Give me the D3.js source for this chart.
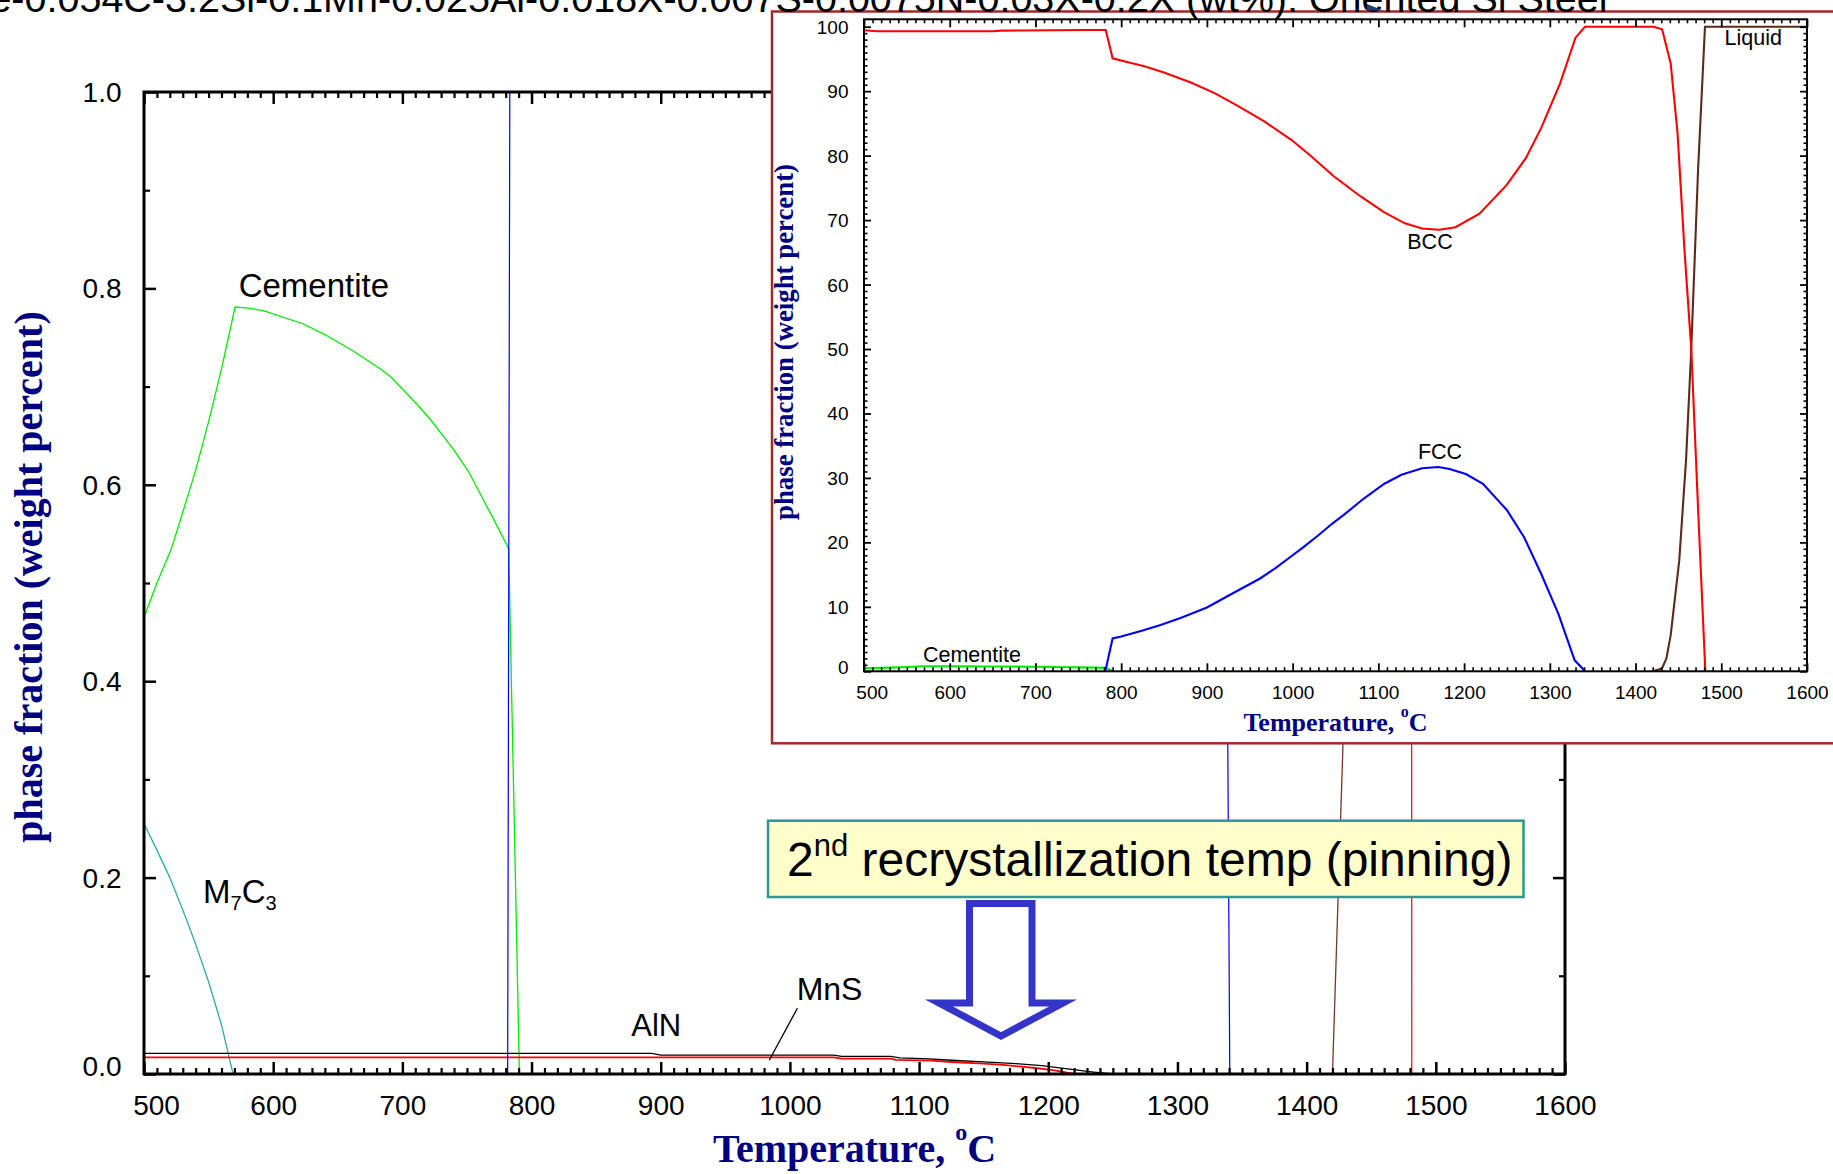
<!DOCTYPE html>
<html>
<head>
<meta charset="utf-8">
<script src="https://cdn.jsdelivr.net/npm/d3@7"></script>
<style>
  html, body { margin: 0; padding: 0; background: #fff; overflow: hidden; }
  svg { display: block; }
</style>
</head>
<body>
<svg id="chart" width="1833" height="1174"></svg>
<script>
// ---------------------------------------------------------------
// Equilibrium phase fractions (weight percent) vs temperature (°C)
// ---------------------------------------------------------------
const cementite = [[500,0.465],[510,0.50],[521,0.534],[530,0.572],[540,0.615],[550,0.664],[560,0.718],[570.5,0.781],
  [581,0.780],[593,0.777],[623,0.764],[640,0.753],[661,0.737],[682,0.719],[691,0.710],[712,0.681],[722,0.666],
  [739,0.637],[751,0.614],[771,0.564],[782.3,0.535],[790.6,0]];
const m7c3 = [[500,0.255],[510,0.228],[520,0.200],[533,0.157],[540,0.132],[550,0.094],[560,0.050],[567.5,0.008],[569,0]];
const aln = [[500,0.021],[893,0.021],[900,0.0192],[1034,0.0192],[1040,0.0180],[1078,0.0180],[1085,0.0165],[1108,0.0155],
  [1125,0.0140],[1150,0.0123],[1175,0.0106],[1195,0.0086],[1215,0.0052],[1235,0.0020],[1250,0]];
const mns = [[500,0.017],[1034,0.017],[1040,0.0156],[1078,0.0156],[1082,0.0143],[1110,0.0136],[1125,0.0122],
  [1150,0.0105],[1165,0.0092],[1190,0.0061],[1205,0.0037],[1220,0]];
const fcc = [[781.5,0],[790,5.1],[800,5.4],[824,6.3],[846,7.2],[870,8.3],[900,9.9],[926,11.8],[962,14.4],[980,16.0],
  [1000,18.0],[1013,19.3],[1030,21.1],[1047,23.0],[1060,24.3],[1083,26.8],[1107,29.1],[1127,30.5],[1151,31.5],
  [1170,31.7],[1183,31.4],[1202,30.6],[1222,29.1],[1250,25.0],[1270,20.8],[1290,15.1],[1310,8.9],[1329,1.7],
  [1339,0.33],[1340.5,0]];
const bcc = [[500,99.45],[515,99.3],[650,99.3],[660,99.4],[760,99.5],[782,99.5],[790,95.1],[808,94.5],[826,93.9],
  [850,92.9],[882,91.3],[909,89.7],[935,87.8],[967,85.3],[998,82.5],[1020,80.1],[1048,76.8],[1079,73.7],[1107,71.2],
  [1131,69.5],[1151,68.7],[1171,68.5],[1190,68.9],[1218,71.0],[1250,75.5],[1272,79.6],[1290,84.3],[1312,91.2],
  [1330,98.3],[1341,100],[1421,100],[1431,99.6],[1441,94.3],[1449,83.5],[1457,65.5],[1465,50],[1474,22],[1481.4,0]];
const liquid = [[1420,0],[1428,0.33],[1431,0.5],[1436,2.0],[1441,5.6],[1451,17.2],[1459,33],[1465,50],[1473,78],
  [1481,100],[1600,100]];

// axis ticks and labels
const tempTicks = [500,600,700,800,900,1000,1100,1200,1300,1400,1500,1600];
const tempMinor = d3.range(500, 1601, 10).filter(t => t % 100 !== 0);
const fracTicks = [0, 0.2, 0.4, 0.6, 0.8, 1.0];
const fracLabels = ["0.0", "0.2", "0.4", "0.6", "0.8", "1.0"];
const fracMinor = [0.1, 0.3, 0.5, 0.7, 0.9];
const pctTicks = [0,10,20,30,40,50,60,70,80,90,100];
const pctMinor = d3.range(0, 101, 1).filter(v => v % 10 !== 0);

const titleText = "Fe-0.054C-3.2Si-0.1Mn-0.025Al-0.018X-0.007S-0.0075N-0.03X-0.2X (wt%): Oriented Si Steel";
const axisTitleY = "phase fraction (weight percent)";

const SANS = "'Liberation Sans', Arial, Helvetica, sans-serif";
const SERIF = "'Liberation Serif', 'Times New Roman', serif";
const NAVY = "#000080";

const svg = d3.select("#chart");
const defs = svg.append("defs");

// ---------------- main plot ----------------
const xM = d3.scaleLinear().domain([500, 1600]).range([144, 1565]);
const yM = d3.scaleLinear().domain([0, 1]).range([1074, 92]);

defs.append("clipPath").attr("id", "clipMain").append("rect")
  .attr("x", xM(500)).attr("y", yM(1)).attr("width", xM(1600) - xM(500)).attr("height", yM(0) - yM(1));

const main = svg.append("g");

const lineM = d3.line().x(d => xM(d[0])).y(d => yM(d[1]));
const mainSeries = [
  { data: m7c3, color: "#2eaaa2", w: 1.3 },
  { data: cementite, color: "#00ee00", w: 1.3 },
  { data: mns, color: "#ff0000", w: 1.8 },
  { data: aln, color: "#000000", w: 1.3 },
  { data: fcc, color: "#0000ff", w: 1.2 },
  { data: bcc, color: "#ff0000", w: 1.2 },
  { data: liquid, color: "#7a3524", w: 1.3 }
];
const mainLines = main.append("g").attr("clip-path", "url(#clipMain)");
mainLines.selectAll("path").data(mainSeries).join("path")
  .attr("d", s => lineM(s.data)).attr("fill", "none")
  .attr("stroke", s => s.color).attr("stroke-width", s => s.w);

function styleAxis(g, sw) {
  g.select(".domain").remove();
  g.selectAll(".tick line").attr("stroke", "#000").attr("stroke-width", sw);
}

// bottom axis (labels) + top axis, ticks pointing inward
main.append("g").attr("transform", `translate(0,${yM(0)})`)
  .call(d3.axisBottom(xM).tickValues(tempMinor).tickSize(-6).tickFormat(""))
  .call(g => styleAxis(g, 2.2));
const bx = main.append("g").attr("transform", `translate(0,${yM(0)})`)
  .call(d3.axisBottom(xM).tickValues(tempTicks).tickSize(-12).tickPadding(21).tickFormat(d3.format("d")))
  .call(g => styleAxis(g, 2.5));
bx.selectAll(".tick text").attr("font-family", SANS).attr("font-size", 28).attr("fill", "#000")
  .attr("dx", d => d === 500 ? 12 : 0);

main.append("g").attr("transform", `translate(0,${yM(1)})`)
  .call(d3.axisTop(xM).tickValues(tempMinor).tickSize(-6).tickFormat(""))
  .call(g => styleAxis(g, 2.2));
main.append("g").attr("transform", `translate(0,${yM(1)})`)
  .call(d3.axisTop(xM).tickValues(tempTicks).tickSize(-12).tickFormat(""))
  .call(g => styleAxis(g, 2.5));

// left axis (labels) + right axis
main.append("g").attr("transform", `translate(${xM(500)},0)`)
  .call(d3.axisLeft(yM).tickValues(fracMinor).tickSize(-6).tickFormat(""))
  .call(g => styleAxis(g, 2.2));
const ly = main.append("g").attr("transform", `translate(${xM(500)},0)`)
  .call(d3.axisLeft(yM).tickValues(fracTicks).tickSize(-12).tickPadding(22.5)
    .tickFormat((d, i) => fracLabels[i]))
  .call(g => styleAxis(g, 2.5));
ly.selectAll(".tick text").attr("font-family", SANS).attr("font-size", 28).attr("fill", "#000")
  .attr("dy", d => d === 0 ? "0.05em" : "0.34em");

main.append("g").attr("transform", `translate(${xM(1600)},0)`)
  .call(d3.axisRight(yM).tickValues(fracMinor).tickSize(-6).tickFormat(""))
  .call(g => styleAxis(g, 2.2));
main.append("g").attr("transform", `translate(${xM(1600)},0)`)
  .call(d3.axisRight(yM).tickValues(fracTicks).tickSize(-12).tickFormat(""))
  .call(g => styleAxis(g, 2.5));

main.append("rect")
  .attr("x", xM(500)).attr("y", yM(1)).attr("width", xM(1600) - xM(500)).attr("height", yM(0) - yM(1))
  .attr("fill", "none").attr("stroke", "#000").attr("stroke-width", 3);

// phase labels
const lab = main.append("g").attr("font-family", SANS).attr("fill", "#000");
lab.append("text").attr("x", xM(573.3)).attr("y", yM(0.791)).attr("font-size", 33).text("Cementite");
const m7 = lab.append("text").attr("x", xM(545.7)).attr("y", yM(0.1737)).attr("font-size", 33);
m7.append("tspan").text("M");
m7.append("tspan").attr("font-size", 20).attr("dy", 7).text("7");
m7.append("tspan").attr("dy", -7).text("C");
m7.append("tspan").attr("font-size", 20).attr("dy", 7).text("3");
lab.append("text").attr("x", xM(877.2)).attr("y", yM(0.0387)).attr("font-size", 31).text("AlN");
lab.append("text").attr("x", xM(1005.2)).attr("y", yM(0.0754)).attr("font-size", 32).text("MnS");
lab.append("line")
  .attr("x1", xM(1005.8)).attr("y1", yM(0.067)).attr("x2", xM(984)).attr("y2", yM(0.014))
  .attr("stroke", "#000").attr("stroke-width", 1.3);

// axis titles
main.append("text").attr("x", (xM(500) + xM(1600)) / 2).attr("y", 1162)
  .attr("text-anchor", "middle").attr("font-family", SERIF).attr("font-weight", "bold")
  .attr("font-size", 40).attr("fill", NAVY)
  .call(t => {
    t.append("tspan").text("Temperature, ");
    t.append("tspan").attr("font-size", 24).attr("dy", -22).text("o");
    t.append("tspan").attr("dy", 22).text("C");
  });
main.append("text").attr("transform", "translate(42,577) rotate(-90)")
  .attr("text-anchor", "middle").attr("font-family", SERIF).attr("font-weight", "bold")
  .attr("font-size", 40).attr("fill", NAVY).text(axisTitleY);

// ---------------- annotation: pinning temperature ----------------
const ann = svg.append("g");
ann.append("rect").attr("x", 768).attr("y", 820.7).attr("width", 755.5).attr("height", 76.3)
  .attr("fill", "#ffffcc").attr("stroke", "#2f9690").attr("stroke-width", 2.5);
ann.append("text").attr("x", 787).attr("y", 876).attr("font-family", SANS).attr("font-size", 48).attr("fill", "#000")
  .call(t => {
    t.append("tspan").text("2");
    t.append("tspan").attr("font-size", 31).attr("dy", -20).text("nd");
    t.append("tspan").attr("dy", 20).text(" recrystallization temp (pinning)");
  });
ann.append("path")
  .attr("d", "M969.5,903.5 L1032,903.5 L1032,1003 L1063,1003 L1001,1036 L939,1003 L969.5,1003 Z")
  .attr("fill", "none").attr("stroke", "#3434c8").attr("stroke-width", 7)
  .attr("stroke-linejoin", "miter").attr("stroke-miterlimit", 10);

// ---------------- inset plot (0-100 %) ----------------
const xI = d3.scaleLinear().domain([500, 1600]).range([864, 1807]);
const yI = d3.scaleLinear().domain([0, 101.15]).range([671.3, 19.3]);

const inset = svg.append("g");
inset.append("rect").attr("x", 772).attr("y", 11.5).attr("width", 1100).attr("height", 743.3 - 11.5)
  .attr("fill", "#fff").attr("stroke", "#9e2a2a").attr("stroke-width", 2.5);

defs.append("clipPath").attr("id", "clipInset").append("rect")
  .attr("x", xI(500)).attr("y", yI(101.15)).attr("width", xI(1600) - xI(500)).attr("height", yI(0) - yI(101.15));

const lineI = d3.line().x(d => xI(d[0])).y(d => yI(d[1]));
const insetSeries = [
  { data: cementite, color: "#00ee00" },
  { data: fcc, color: "#0000ff" },
  { data: liquid, color: "#5e2a18" },
  { data: bcc, color: "#ff0000" }
];
inset.append("g").attr("clip-path", "url(#clipInset)")
  .selectAll("path").data(insetSeries).join("path")
  .attr("d", s => lineI(s.data)).attr("fill", "none")
  .attr("stroke", s => s.color).attr("stroke-width", 2.1);

inset.append("g").attr("transform", `translate(0,${yI(0)})`)
  .call(d3.axisBottom(xI).tickValues(tempMinor).tickSize(-4).tickFormat(""))
  .call(g => styleAxis(g, 1.6));
const ibx = inset.append("g").attr("transform", `translate(0,${yI(0)})`)
  .call(d3.axisBottom(xI).tickValues(tempTicks).tickSize(-8).tickPadding(14.2).tickFormat(d3.format("d")))
  .call(g => styleAxis(g, 1.8));
ibx.selectAll(".tick text").attr("font-family", SANS).attr("font-size", 19).attr("fill", "#000")
  .attr("dx", d => d === 500 ? 7.7 : 0);
inset.append("g").attr("transform", `translate(0,${yI(101.15)})`)
  .call(d3.axisTop(xI).tickValues(tempMinor).tickSize(-4).tickFormat(""))
  .call(g => styleAxis(g, 1.6));
inset.append("g").attr("transform", `translate(0,${yI(101.15)})`)
  .call(d3.axisTop(xI).tickValues(tempTicks).tickSize(-8).tickFormat(""))
  .call(g => styleAxis(g, 1.8));

inset.append("g").attr("transform", `translate(${xI(500)},0)`)
  .call(d3.axisLeft(yI).tickValues(pctMinor).tickSize(-3.5).tickFormat(""))
  .call(g => styleAxis(g, 1.6));
const ily = inset.append("g").attr("transform", `translate(${xI(500)},0)`)
  .call(d3.axisLeft(yI).tickValues(pctTicks).tickSize(-7).tickPadding(15.5).tickFormat(d3.format("d")))
  .call(g => styleAxis(g, 1.8));
ily.selectAll(".tick text").attr("font-family", SANS).attr("font-size", 19).attr("fill", "#000")
  .attr("dy", d => d === 0 ? "0.12em" : "0.34em");
inset.append("g").attr("transform", `translate(${xI(1600)},0)`)
  .call(d3.axisRight(yI).tickValues(pctMinor).tickSize(-3.5).tickFormat(""))
  .call(g => styleAxis(g, 1.6));
inset.append("g").attr("transform", `translate(${xI(1600)},0)`)
  .call(d3.axisRight(yI).tickValues(pctTicks).tickSize(-7).tickFormat(""))
  .call(g => styleAxis(g, 1.8));

inset.append("rect")
  .attr("x", xI(500)).attr("y", yI(101.15)).attr("width", xI(1600) - xI(500)).attr("height", yI(0) - yI(101.15))
  .attr("fill", "none").attr("stroke", "#000").attr("stroke-width", 2);

const ilab = inset.append("g").attr("font-family", SANS).attr("font-size", 21.5).attr("fill", "#000");
ilab.append("text").attr("x", xI(1160.2)).attr("y", yI(65.5)).attr("text-anchor", "middle").text("BCC");
ilab.append("text").attr("x", xI(1171.9)).attr("y", yI(32.9)).attr("text-anchor", "middle").text("FCC");
ilab.append("text").attr("x", xI(1503.8)).attr("y", yI(97.2)).text("Liquid");
ilab.append("text").attr("x", xI(568.8)).attr("y", yI(1.49)).text("Cementite");

inset.append("text").attr("x", (xI(500) + xI(1600)) / 2).attr("y", 730.7)
  .attr("text-anchor", "middle").attr("font-family", SERIF).attr("font-weight", "bold")
  .attr("font-size", 26).attr("fill", NAVY)
  .call(t => {
    t.append("tspan").text("Temperature, ");
    t.append("tspan").attr("font-size", 16).attr("dy", -14).text("o");
    t.append("tspan").attr("dy", 14).text("C");
  });
inset.append("text").attr("transform", "translate(793,342) rotate(-90)")
  .attr("text-anchor", "middle").attr("font-family", SERIF).attr("font-weight", "bold")
  .attr("font-size", 26.8).attr("fill", NAVY).text(axisTitleY);

// ---------------- composition title along the top edge ----------------
svg.append("text").attr("x", -34.75).attr("y", 12)
  .attr("font-family", SANS).attr("font-size", 39.5).attr("fill", "#000").text(titleText);
svg.append("path").attr("d", "M1367,4 L1383,10.5 L1367,10.5 Z").attr("fill", "#1d3f7c");
</script>
</body>
</html>
